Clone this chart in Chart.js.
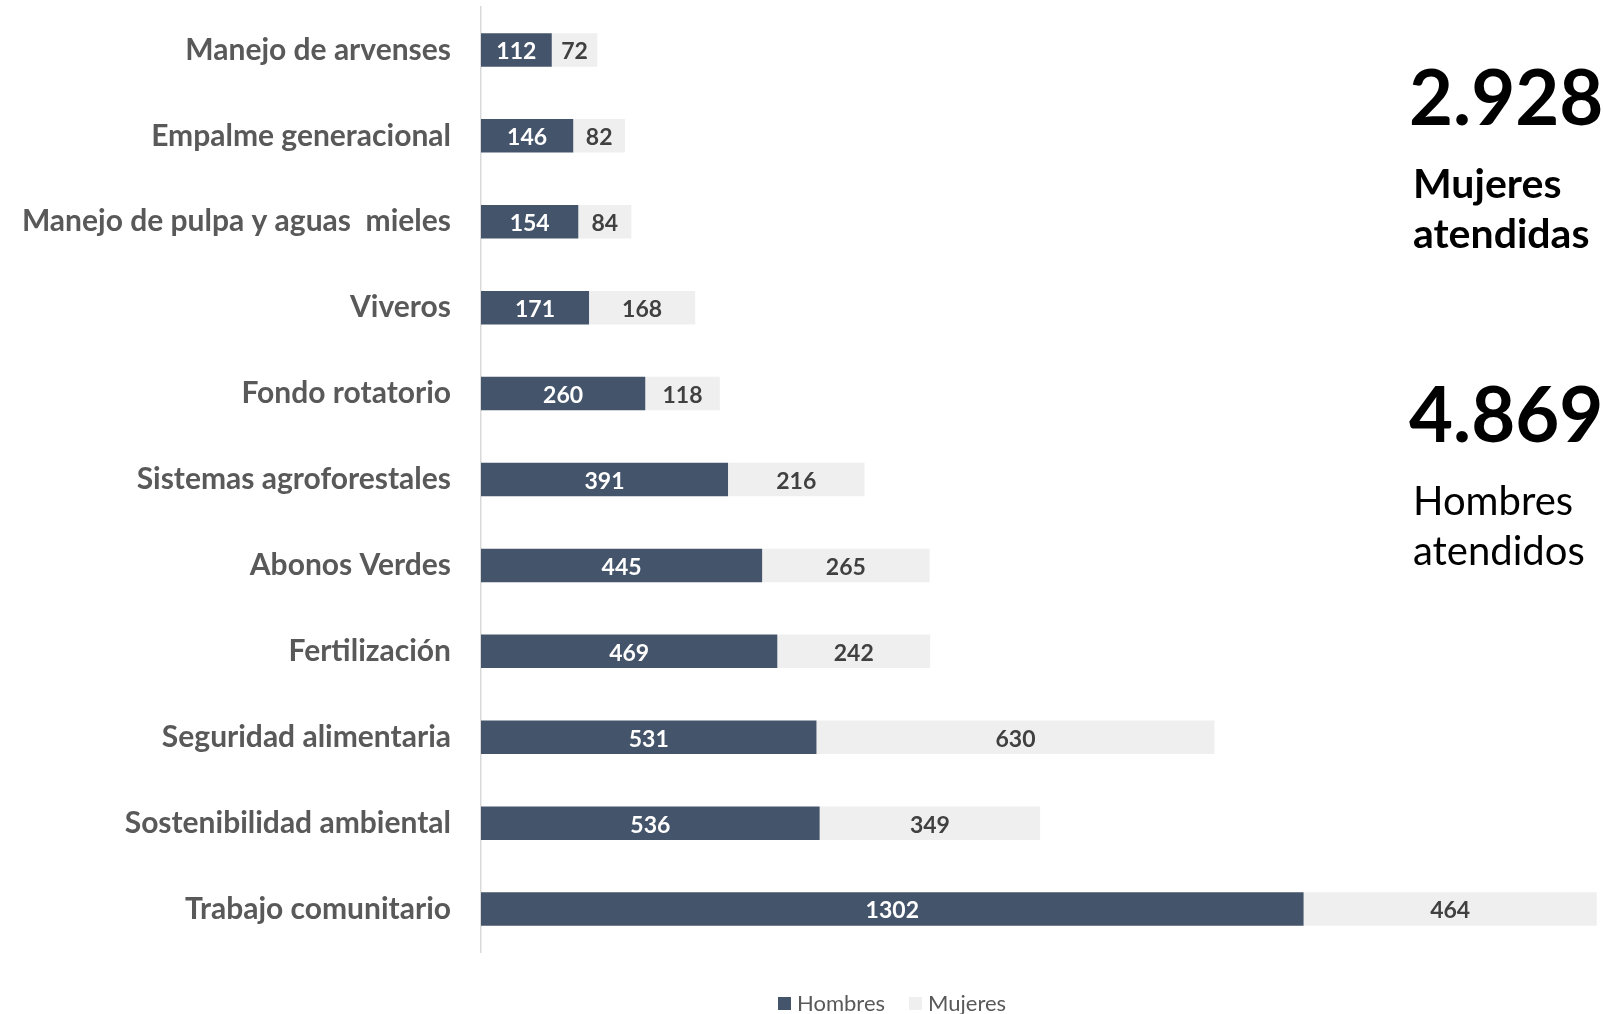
<!DOCTYPE html>
<html>
<head>
<meta charset="utf-8">
<script src="https://cdn.jsdelivr.net/npm/chart.js@4/dist/chart.umd.min.js"></script>
<style>
  html, body { margin: 0; padding: 0; background: #fff; }
  #wrap { position: relative; width: 1603px; height: 1014px; }
</style>
</head>
<body>
<div id="wrap"><canvas id="capChart" width="1603" height="1014"></canvas></div>
<script>
// data
const categories = [
  "Manejo de arvenses",
  "Empalme generacional",
  "Manejo de pulpa y aguas  mieles",
  "Viveros",
  "Fondo rotatorio",
  "Sistemas agroforestales",
  "Abonos Verdes",
  "Fertilización",
  "Seguridad alimentaria",
  "Sostenibilidad ambiental",
  "Trabajo comunitario",
];
const hombres = [112, 146, 154, 171, 260, 391, 445, 469, 531, 536, 1302];
const mujeres = [72, 82, 84, 168, 118, 216, 265, 242, 630, 349, 464];
const totalMujeres = "2.928";
const totalHombres = "4.869";

const FONT = "Lato, 'Open Sans', sans-serif";

// values in the middle of each bar
const barLabels = {
  id: "barLabels",
  afterDatasetsDraw(chart) {
    const ctx = chart.ctx;
    ctx.save();
    ctx.font = "bold 23px " + FONT;
    ctx.textAlign = "center";
    ctx.textBaseline = "middle";
    chart.data.datasets.forEach((ds, i) => {
      const meta = chart.getDatasetMeta(i);
      ctx.fillStyle = i === 0 ? "#ffffff" : "#404040";
      meta.data.forEach((bar, j) => {
        ctx.fillText(ds.data[j], (bar.x + bar.base) / 2, bar.y + 2);
      });
    });
    ctx.restore();
  },
};

// legend + the two totals on the right
const extras = {
  id: "extras",
  afterDraw(chart) {
    const ctx = chart.ctx;
    ctx.save();
    ctx.textBaseline = "middle";
    ctx.textAlign = "left";
    ctx.font = "22px " + FONT;
    const lx = [778, 909];
    chart.data.datasets.forEach((ds, i) => {
      ctx.fillStyle = ds.backgroundColor;
      ctx.fillRect(lx[i], 997, 13, 13);
      ctx.fillStyle = "#595959";
      ctx.fillText(ds.label, lx[i] + 19, 1004);
    });

    ctx.textBaseline = "alphabetic";
    ctx.fillStyle = "#000000";
    ctx.font = "bold 76px " + FONT;
    ctx.fillText(totalMujeres, 1409, 125);
    ctx.fillText(totalHombres, 1409, 442);
    ctx.font = "bold 41px " + FONT;
    ctx.fillText("Mujeres", 1413, 198);
    ctx.fillText("atendidas", 1413, 248);
    ctx.font = "40px " + FONT;
    ctx.fillText("Hombres", 1413, 515);
    ctx.fillText("atendidos", 1413, 565);
    ctx.restore();
  },
};

new Chart(document.getElementById("capChart"), {
  type: "bar",
  data: {
    labels: categories,
    datasets: [
      { label: "Hombres", data: hombres, backgroundColor: "#44546a" },
      { label: "Mujeres", data: mujeres, backgroundColor: "#efefef" },
    ],
  },
  options: {
    indexAxis: "y",
    responsive: false,
    animation: false,
    categoryPercentage: 0.39,
    barPercentage: 1,
    layout: { padding: { top: 7, bottom: 62, left: 0, right: 5 } },
    plugins: {
      legend: { display: false },
      tooltip: { enabled: false },
    },
    scales: {
      x: {
        stacked: true,
        display: false,
        min: 0,
        max: 1768,
      },
      y: {
        stacked: true,
        afterFit: (scale) => {
          scale.width = 481;
          scale.paddingTop = 0;
          scale.paddingBottom = 0;
        },
        grid: { color: "transparent", drawTicks: false },
        border: { display: true, color: "#d9d9d9", width: 1.5 },
        ticks: {
          padding: 30,
          color: "#595959",
          font: { family: FONT, size: 30, weight: "bold" },
        },
      },
    },
  },
  plugins: [barLabels, extras],
});
</script>
</body>
</html>
